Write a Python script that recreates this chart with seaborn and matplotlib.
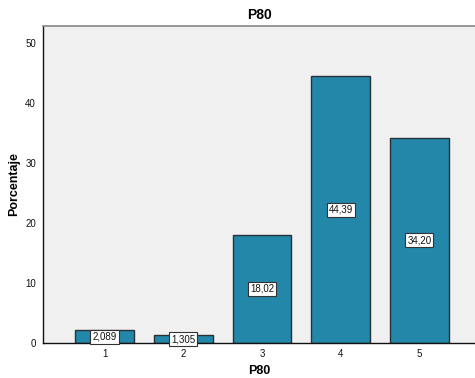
import matplotlib
matplotlib.use("Agg")
import matplotlib.pyplot as plt
import seaborn as sns
import pandas as pd

categories = ["1", "2", "3", "4", "5"]
values = [2.089, 1.305, 18.02, 44.39, 34.20]
labels = ["2,089", "1,305", "18,02", "44,39", "34,20"]
yticks = [0, 10, 20, 30, 40, 50]

df = pd.DataFrame({"P80": categories, "Porcentaje": values})

sns.set_style("white")
plt.rcParams['font.family'] = ['Liberation Sans', 'DejaVu Sans']
plt.rcParams['text.color'] = 'black'
plt.rcParams['axes.labelcolor'] = 'black'

fig = plt.figure(figsize=(4.75, 3.78), dpi=100)
ax = fig.add_axes([43/475, 1 - 343/378, 1 - 43/475, (343-26)/378])
ax.set_facecolor("#F0F0F0")

sns.barplot(data=df, x="P80", y="Porcentaje", color="#2387AA", saturation=1,
            width=0.745, edgecolor="#263238", linewidth=1.0, ax=ax)

for i, (v, lab) in enumerate(zip(values, labels)):
    ax.text(i, v / 2, lab, ha="center", va="center", fontsize=7, color="#111111",
            bbox=dict(boxstyle="square,pad=0.2", facecolor="white", edgecolor="#333333", linewidth=0.8))

ax.set_xlim(-0.781, 4.705)
ax.set_ylim(0, 52.8)
ax.set_yticks(yticks)
ax.set_yticklabels([str(t) for t in yticks])
ax.tick_params(axis="both", labelsize=7, length=4, width=1, colors="#111111", pad=1)
ax.tick_params(axis="x", length=3)
ax.set_xlabel("P80", fontsize=9, fontweight="bold", labelpad=5, color="black")
ax.set_ylabel("Porcentaje", fontsize=9, fontweight="bold", labelpad=4, color="black")
ax.set_title("P80", fontsize=10, fontweight="bold", pad=5, color="black")

ax.spines["top"].set_color("#888888")
ax.spines["top"].set_linewidth(1.2)
ax.spines["right"].set_visible(False)
ax.spines["left"].set_color("#111111")
ax.spines["bottom"].set_color("#111111")
ax.spines["left"].set_linewidth(1)
ax.spines["bottom"].set_linewidth(1)

fig.savefig("out.png", dpi=100)
